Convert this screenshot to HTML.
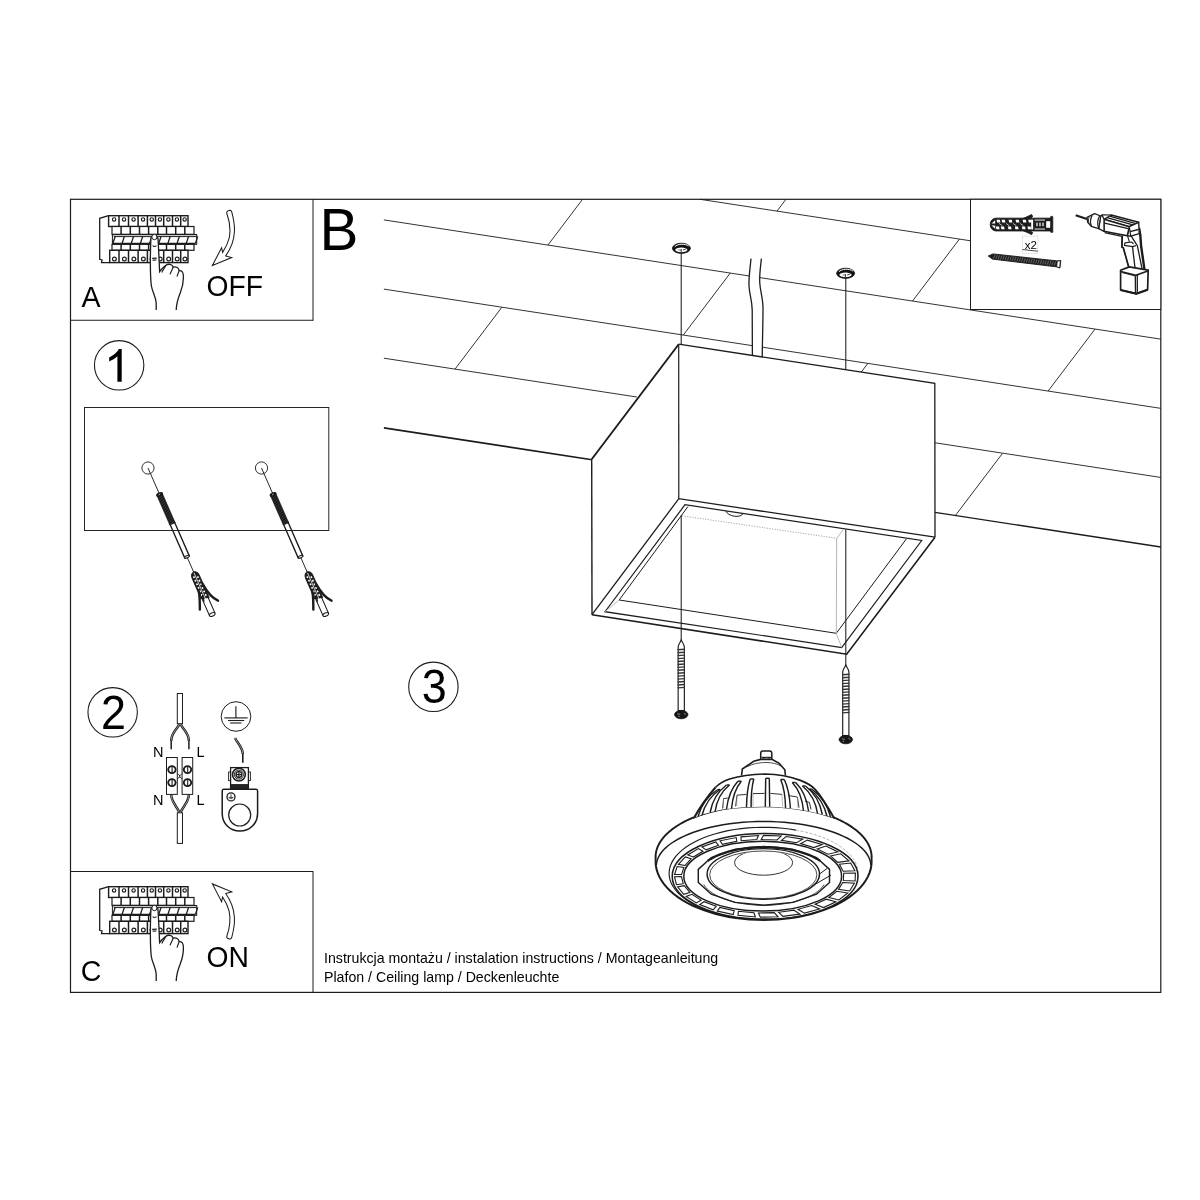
<!DOCTYPE html>
<html><head><meta charset="utf-8"><title>Instrukcja monta&#380;u</title>
<style>
html,body{margin:0;padding:0;background:#fff;}
body{width:1200px;height:1200px;overflow:hidden;font-family:"Liberation Sans",sans-serif;}
svg{display:block;}
svg text{font-family:"Liberation Sans",sans-serif;fill:#000;}
</style></head><body>
<svg width="1200" height="1200" viewBox="0 0 1200 1200" stroke-linecap="butt" stroke-linejoin="miter">
<rect x="0" y="0" width="1200" height="1200" fill="#fff"/>
<rect x="70.5" y="199.3" width="1090.3" height="793.0999999999999" fill="none" stroke="#1c1c1c" stroke-width="1.2"/>
<line x1="70.50" y1="320.30" x2="313.00" y2="320.30" stroke="#1c1c1c" stroke-width="1.1" />
<line x1="313.00" y1="199.30" x2="313.00" y2="320.80" stroke="#1c1c1c" stroke-width="1.0" />
<line x1="70.50" y1="871.50" x2="313.00" y2="871.50" stroke="#1c1c1c" stroke-width="1.1" />
<line x1="313.00" y1="871.00" x2="313.00" y2="992.40" stroke="#1c1c1c" stroke-width="1.0" />
<ellipse cx="119.15" cy="365.35" rx="24.70" ry="24.70" stroke="#1c1c1c" stroke-width="1.1" fill="none" />
<path d="M121.7,349.0 L121.7,381.7 L117.4,381.7 L117.4,356.3 C115.2,358.4 112.2,360.2 109.2,361.4 L109.2,357.4 C113.4,355.4 117.0,352.4 118.9,349.0 Z" stroke="none" stroke-width="0" fill="#000" />
<ellipse cx="112.65" cy="712.35" rx="24.70" ry="24.70" stroke="#1c1c1c" stroke-width="1.1" fill="none" />
<ellipse cx="433.40" cy="686.80" rx="24.70" ry="24.70" stroke="#1c1c1c" stroke-width="1.1" fill="none" />
<line x1="700.00" y1="199.30" x2="970.50" y2="240.79" stroke="#1c1c1c" stroke-width="0.9" />
<line x1="383.90" y1="219.90" x2="1160.80" y2="339.15" stroke="#1c1c1c" stroke-width="0.9" />
<line x1="383.90" y1="289.10" x2="1160.80" y2="408.35" stroke="#1c1c1c" stroke-width="0.9" />
<line x1="383.90" y1="358.20" x2="636.90" y2="397.03" stroke="#1c1c1c" stroke-width="0.9" />
<line x1="935.00" y1="442.79" x2="1160.80" y2="477.45" stroke="#1c1c1c" stroke-width="0.9" />
<line x1="383.90" y1="427.80" x2="592.00" y2="459.74" stroke="#1c1c1c" stroke-width="1.7" />
<line x1="935.00" y1="512.39" x2="1160.80" y2="547.05" stroke="#1c1c1c" stroke-width="1.45" />
<line x1="777.00" y1="211.08" x2="785.93" y2="199.30" stroke="#1c1c1c" stroke-width="0.9" />
<line x1="547.90" y1="245.07" x2="582.57" y2="199.30" stroke="#1c1c1c" stroke-width="0.9" />
<line x1="912.50" y1="301.03" x2="959.43" y2="239.08" stroke="#1c1c1c" stroke-width="0.9" />
<line x1="683.30" y1="335.05" x2="730.23" y2="273.10" stroke="#1c1c1c" stroke-width="0.9" />
<line x1="1048.10" y1="391.05" x2="1095.03" y2="329.10" stroke="#1c1c1c" stroke-width="0.9" />
<line x1="455.00" y1="369.11" x2="501.93" y2="307.16" stroke="#1c1c1c" stroke-width="0.9" />
<line x1="861.17" y1="372.19" x2="867.88" y2="363.33" stroke="#1c1c1c" stroke-width="0.9" />
<line x1="955.40" y1="515.52" x2="1002.33" y2="453.57" stroke="#1c1c1c" stroke-width="0.9" />
<rect x="970.5" y="199.3" width="190.29999999999995" height="110.19999999999999" fill="#fff" stroke="#1c1c1c" stroke-width="1.0"/>
<path d="M751.0,258.6 C750.2,268 748.6,277 749.0,286 C749.5,295 752.0,300 752.2,310 C752.4,325 752.4,340 752.4,356 L762.2,357.5 C762.4,340 763.0,324 763.0,308 C763.0,298 760.2,292 759.7,282 C759.4,274 760.6,266 761.4,258.6 Z" stroke="none" stroke-width="0" fill="#fff" />
<path d="M751.0,258.6 C750.2,268 748.6,277 749.0,286 C749.5,295 752.0,300 752.2,310 C752.4,325 752.4,340 752.4,356" stroke="#1c1c1c" stroke-width="1.3" fill="none" />
<path d="M761.4,258.6 C760.6,266 759.4,274 759.7,282 C760.2,292 763.0,298 763.0,308 C763.0,324 762.4,340 762.2,357.5" stroke="#1c1c1c" stroke-width="1.3" fill="none" />
<line x1="681.20" y1="250.00" x2="681.20" y2="345.00" stroke="#1c1c1c" stroke-width="1.05" />
<line x1="845.80" y1="275.00" x2="845.80" y2="370.00" stroke="#1c1c1c" stroke-width="1.05" />
<ellipse cx="681.40" cy="248.30" rx="9.00" ry="5.10" stroke="#111" stroke-width="0.8" fill="#111" />
<path d="M674.80,246.80 C676.90,243.80 685.40,243.40 688.60,246.00" stroke="#fff" stroke-width="1.0" fill="none" />
<ellipse cx="681.30" cy="249.80" rx="6.10" ry="2.35" stroke="none" stroke-width="0" fill="#fff" />
<line x1="681.20" y1="249.00" x2="681.20" y2="252.50" stroke="#333" stroke-width="1.0" />
<line x1="682.90" y1="250.00" x2="686.00" y2="249.00" stroke="#333" stroke-width="0.9" />
<line x1="678.40" y1="249.90" x2="680.90" y2="250.10" stroke="#555" stroke-width="0.8" />
<ellipse cx="845.60" cy="273.30" rx="9.00" ry="5.10" stroke="#111" stroke-width="0.8" fill="#111" />
<path d="M839.00,271.80 C841.10,268.80 849.60,268.40 852.80,271.00" stroke="#fff" stroke-width="1.0" fill="none" />
<ellipse cx="845.50" cy="274.80" rx="6.10" ry="2.35" stroke="none" stroke-width="0" fill="#fff" />
<line x1="845.40" y1="274.00" x2="845.40" y2="277.50" stroke="#333" stroke-width="1.0" />
<line x1="847.10" y1="275.00" x2="850.20" y2="274.00" stroke="#333" stroke-width="0.9" />
<line x1="842.60" y1="274.90" x2="845.10" y2="275.10" stroke="#555" stroke-width="0.8" />
<path d="M591.70,459.30 L678.70,344.20 L934.80,383.30 L935.00,537.20 L846.70,654.20 L592.00,614.70 Z" stroke="none" stroke-width="0" fill="#fff" />
<path d="M591.70,459.30 L678.70,344.20" stroke="#1c1c1c" stroke-width="1.9" fill="none" />
<path d="M678.70,344.20 L934.80,383.30 L935.00,537.20" stroke="#1c1c1c" stroke-width="1.3" fill="none" />
<path d="M678.70,344.20 L678.80,498.70" stroke="#1c1c1c" stroke-width="1.2" fill="none" />
<path d="M591.70,459.30 L592.00,614.70" stroke="#1c1c1c" stroke-width="1.4" fill="none" />
<path d="M592.00,614.70 L678.80,498.70 L935.00,537.20" stroke="#1c1c1c" stroke-width="1.3" fill="none" />
<path d="M592.00,614.70 L846.70,654.20 L935.00,537.20" stroke="#1c1c1c" stroke-width="1.6" fill="none" />
<path d="M685.00,504.70 L605.00,611.70 L841.70,647.50 L921.70,540.50 Z" stroke="#1c1c1c" stroke-width="1.2" fill="none" />
<path d="M688.00,506.50 L619.20,600.00 L836.30,633.30 L906.30,539.00" stroke="#1c1c1c" stroke-width="1.0" fill="none" />
<line x1="836.70" y1="538.30" x2="836.30" y2="633.30" stroke="#b5b5b5" stroke-width="1.0" />
<line x1="836.70" y1="538.30" x2="843.00" y2="530.00" stroke="#b5b5b5" stroke-width="1.0" />
<line x1="836.30" y1="633.30" x2="841.70" y2="647.50" stroke="#b5b5b5" stroke-width="0.9" />
<line x1="619.20" y1="600.00" x2="605.00" y2="611.70" stroke="#b5b5b5" stroke-width="0.9" />
<line x1="682.00" y1="515.80" x2="836.70" y2="538.30" stroke="#9a9a9a" stroke-width="0.9" stroke-dasharray="1.2 1.4"/>
<path d="M726.0,511.0 C727.5,516.5 741.0,518.5 743.0,513.5" stroke="#1c1c1c" stroke-width="1.0" fill="none" />
<line x1="681.20" y1="515.60" x2="681.20" y2="641.00" stroke="#1c1c1c" stroke-width="1.05" />
<line x1="845.80" y1="529.20" x2="845.80" y2="666.00" stroke="#1c1c1c" stroke-width="1.05" />
<path d="M681.25,640.0 C680.45,642.2 678.15,644.4 678.15,647.0 L678.15,710.5 L684.35,710.5 L684.35,647.0 C684.35,644.4 682.05,642.2 681.25,640.0 Z" stroke="#1c1c1c" stroke-width="1.15" fill="#fff" />
<line x1="677.55" y1="649.80" x2="684.95" y2="649.30" stroke="#333" stroke-width="1.4" />
<line x1="677.55" y1="652.73" x2="684.95" y2="652.23" stroke="#333" stroke-width="1.4" />
<line x1="677.55" y1="655.66" x2="684.95" y2="655.16" stroke="#333" stroke-width="1.4" />
<line x1="677.55" y1="658.59" x2="684.95" y2="658.09" stroke="#333" stroke-width="1.4" />
<line x1="677.55" y1="661.52" x2="684.95" y2="661.02" stroke="#333" stroke-width="1.4" />
<line x1="677.55" y1="664.45" x2="684.95" y2="663.95" stroke="#333" stroke-width="1.4" />
<line x1="677.55" y1="667.38" x2="684.95" y2="666.88" stroke="#333" stroke-width="1.4" />
<line x1="677.55" y1="670.31" x2="684.95" y2="669.81" stroke="#333" stroke-width="1.4" />
<line x1="677.55" y1="673.24" x2="684.95" y2="672.74" stroke="#333" stroke-width="1.4" />
<line x1="677.55" y1="676.17" x2="684.95" y2="675.67" stroke="#333" stroke-width="1.4" />
<line x1="677.55" y1="679.10" x2="684.95" y2="678.60" stroke="#333" stroke-width="1.4" />
<line x1="677.55" y1="682.03" x2="684.95" y2="681.53" stroke="#333" stroke-width="1.4" />
<line x1="677.55" y1="684.96" x2="684.95" y2="684.46" stroke="#333" stroke-width="1.4" />
<line x1="677.55" y1="687.89" x2="684.95" y2="687.39" stroke="#333" stroke-width="1.4" />
<ellipse cx="681.25" cy="714.60" rx="6.70" ry="4.20" stroke="#111" stroke-width="0.8" fill="#151515" />
<path d="M677.25,713.8 L680.25,714.3 M683.85,713.2 L685.85,714.6 M678.05,716.0 L679.65,716.6" stroke="#9a9a9a" stroke-width="0.9" fill="none" />
<path d="M845.8,665.0 C845.0,667.2 842.6999999999999,669.4 842.6999999999999,672.0 L842.6999999999999,735.5 L848.9,735.5 L848.9,672.0 C848.9,669.4 846.5999999999999,667.2 845.8,665.0 Z" stroke="#1c1c1c" stroke-width="1.15" fill="#fff" />
<line x1="842.10" y1="674.80" x2="849.50" y2="674.30" stroke="#333" stroke-width="1.4" />
<line x1="842.10" y1="677.73" x2="849.50" y2="677.23" stroke="#333" stroke-width="1.4" />
<line x1="842.10" y1="680.66" x2="849.50" y2="680.16" stroke="#333" stroke-width="1.4" />
<line x1="842.10" y1="683.59" x2="849.50" y2="683.09" stroke="#333" stroke-width="1.4" />
<line x1="842.10" y1="686.52" x2="849.50" y2="686.02" stroke="#333" stroke-width="1.4" />
<line x1="842.10" y1="689.45" x2="849.50" y2="688.95" stroke="#333" stroke-width="1.4" />
<line x1="842.10" y1="692.38" x2="849.50" y2="691.88" stroke="#333" stroke-width="1.4" />
<line x1="842.10" y1="695.31" x2="849.50" y2="694.81" stroke="#333" stroke-width="1.4" />
<line x1="842.10" y1="698.24" x2="849.50" y2="697.74" stroke="#333" stroke-width="1.4" />
<line x1="842.10" y1="701.17" x2="849.50" y2="700.67" stroke="#333" stroke-width="1.4" />
<line x1="842.10" y1="704.10" x2="849.50" y2="703.60" stroke="#333" stroke-width="1.4" />
<line x1="842.10" y1="707.03" x2="849.50" y2="706.53" stroke="#333" stroke-width="1.4" />
<line x1="842.10" y1="709.96" x2="849.50" y2="709.46" stroke="#333" stroke-width="1.4" />
<line x1="842.10" y1="712.89" x2="849.50" y2="712.39" stroke="#333" stroke-width="1.4" />
<ellipse cx="845.80" cy="739.60" rx="6.70" ry="4.20" stroke="#111" stroke-width="0.8" fill="#151515" />
<path d="M841.8,738.8 L844.8,739.3 M848.4,738.2 L850.4,739.6 M842.5999999999999,741.0 L844.1999999999999,741.6" stroke="#9a9a9a" stroke-width="0.9" fill="none" />
<g transform="translate(0,0)">
<path d="M108.6,215.7 L99.7,218.3 L99.7,259.3 L102.0,260.0 L101.5,262.6 L109.7,262.6" stroke="#1c1c1c" stroke-width="1.3" fill="#fff" />
<rect x="108.6" y="215.7" width="79.4" height="10.8" fill="#fff" stroke="#1c1c1c" stroke-width="1.4"/>
<line x1="119.00" y1="215.70" x2="119.00" y2="226.50" stroke="#1c1c1c" stroke-width="1.5" />
<line x1="128.50" y1="215.70" x2="128.50" y2="226.50" stroke="#1c1c1c" stroke-width="1.5" />
<line x1="138.10" y1="215.70" x2="138.10" y2="226.50" stroke="#1c1c1c" stroke-width="1.5" />
<line x1="147.40" y1="215.70" x2="147.40" y2="226.50" stroke="#1c1c1c" stroke-width="1.5" />
<line x1="155.50" y1="215.70" x2="155.50" y2="226.50" stroke="#1c1c1c" stroke-width="1.5" />
<line x1="163.70" y1="215.70" x2="163.70" y2="226.50" stroke="#1c1c1c" stroke-width="1.5" />
<line x1="172.50" y1="215.70" x2="172.50" y2="226.50" stroke="#1c1c1c" stroke-width="1.5" />
<line x1="180.70" y1="215.70" x2="180.70" y2="226.50" stroke="#1c1c1c" stroke-width="1.5" />
<ellipse cx="114.10" cy="219.40" rx="1.70" ry="1.70" stroke="#1c1c1c" stroke-width="1.15" fill="none" />
<ellipse cx="124.05" cy="219.40" rx="1.70" ry="1.70" stroke="#1c1c1c" stroke-width="1.15" fill="none" />
<ellipse cx="133.60" cy="219.40" rx="1.70" ry="1.70" stroke="#1c1c1c" stroke-width="1.15" fill="none" />
<ellipse cx="143.05" cy="219.40" rx="1.70" ry="1.70" stroke="#1c1c1c" stroke-width="1.15" fill="none" />
<ellipse cx="151.75" cy="219.40" rx="1.70" ry="1.70" stroke="#1c1c1c" stroke-width="1.15" fill="none" />
<ellipse cx="159.90" cy="219.40" rx="1.70" ry="1.70" stroke="#1c1c1c" stroke-width="1.15" fill="none" />
<ellipse cx="168.40" cy="219.40" rx="1.70" ry="1.70" stroke="#1c1c1c" stroke-width="1.15" fill="none" />
<ellipse cx="176.90" cy="219.40" rx="1.70" ry="1.70" stroke="#1c1c1c" stroke-width="1.15" fill="none" />
<ellipse cx="184.65" cy="219.40" rx="1.70" ry="1.70" stroke="#1c1c1c" stroke-width="1.15" fill="none" />
<rect x="112.0" y="226.5" width="82.0" height="7.8" fill="#fff" stroke="#1c1c1c" stroke-width="1.2"/>
<line x1="121.10" y1="226.50" x2="121.10" y2="234.30" stroke="#1c1c1c" stroke-width="1.5" />
<line x1="130.30" y1="226.50" x2="130.30" y2="234.30" stroke="#1c1c1c" stroke-width="1.5" />
<line x1="139.50" y1="226.50" x2="139.50" y2="234.30" stroke="#1c1c1c" stroke-width="1.5" />
<line x1="148.60" y1="226.50" x2="148.60" y2="234.30" stroke="#1c1c1c" stroke-width="1.5" />
<line x1="157.80" y1="226.50" x2="157.80" y2="234.30" stroke="#1c1c1c" stroke-width="1.5" />
<line x1="166.50" y1="226.50" x2="166.50" y2="234.30" stroke="#1c1c1c" stroke-width="1.5" />
<line x1="175.70" y1="226.50" x2="175.70" y2="234.30" stroke="#1c1c1c" stroke-width="1.5" />
<line x1="184.80" y1="226.50" x2="184.80" y2="234.30" stroke="#1c1c1c" stroke-width="1.5" />
<rect x="112.0" y="244.4" width="82.0" height="5.9" fill="#fff" stroke="#1c1c1c" stroke-width="1.2"/>
<line x1="121.10" y1="244.40" x2="121.10" y2="250.30" stroke="#1c1c1c" stroke-width="1.5" />
<line x1="130.30" y1="244.40" x2="130.30" y2="250.30" stroke="#1c1c1c" stroke-width="1.5" />
<line x1="139.50" y1="244.40" x2="139.50" y2="250.30" stroke="#1c1c1c" stroke-width="1.5" />
<line x1="148.60" y1="244.40" x2="148.60" y2="250.30" stroke="#1c1c1c" stroke-width="1.5" />
<line x1="157.80" y1="244.40" x2="157.80" y2="250.30" stroke="#1c1c1c" stroke-width="1.5" />
<line x1="166.50" y1="244.40" x2="166.50" y2="250.30" stroke="#1c1c1c" stroke-width="1.5" />
<line x1="175.70" y1="244.40" x2="175.70" y2="250.30" stroke="#1c1c1c" stroke-width="1.5" />
<line x1="184.80" y1="244.40" x2="184.80" y2="250.30" stroke="#1c1c1c" stroke-width="1.5" />
<rect x="109.7" y="250.3" width="78.3" height="12.3" fill="#fff" stroke="#1c1c1c" stroke-width="1.4"/>
<line x1="119.00" y1="250.30" x2="119.00" y2="262.60" stroke="#1c1c1c" stroke-width="1.5" />
<line x1="128.50" y1="250.30" x2="128.50" y2="262.60" stroke="#1c1c1c" stroke-width="1.5" />
<line x1="138.10" y1="250.30" x2="138.10" y2="262.60" stroke="#1c1c1c" stroke-width="1.5" />
<line x1="147.40" y1="250.30" x2="147.40" y2="262.60" stroke="#1c1c1c" stroke-width="1.5" />
<line x1="155.50" y1="250.30" x2="155.50" y2="262.60" stroke="#1c1c1c" stroke-width="1.5" />
<line x1="163.70" y1="250.30" x2="163.70" y2="262.60" stroke="#1c1c1c" stroke-width="1.5" />
<line x1="172.50" y1="250.30" x2="172.50" y2="262.60" stroke="#1c1c1c" stroke-width="1.5" />
<line x1="180.70" y1="250.30" x2="180.70" y2="262.60" stroke="#1c1c1c" stroke-width="1.5" />
<ellipse cx="114.40" cy="259.00" rx="1.90" ry="1.90" stroke="#1c1c1c" stroke-width="1.2" fill="none" />
<ellipse cx="124.35" cy="259.00" rx="1.90" ry="1.90" stroke="#1c1c1c" stroke-width="1.2" fill="none" />
<ellipse cx="133.90" cy="259.00" rx="1.90" ry="1.90" stroke="#1c1c1c" stroke-width="1.2" fill="none" />
<ellipse cx="143.35" cy="259.00" rx="1.90" ry="1.90" stroke="#1c1c1c" stroke-width="1.2" fill="none" />
<ellipse cx="152.05" cy="259.00" rx="1.90" ry="1.90" stroke="#1c1c1c" stroke-width="1.2" fill="none" />
<ellipse cx="160.20" cy="259.00" rx="1.90" ry="1.90" stroke="#1c1c1c" stroke-width="1.2" fill="none" />
<ellipse cx="168.70" cy="259.00" rx="1.90" ry="1.90" stroke="#1c1c1c" stroke-width="1.2" fill="none" />
<ellipse cx="177.20" cy="259.00" rx="1.90" ry="1.90" stroke="#1c1c1c" stroke-width="1.2" fill="none" />
<ellipse cx="184.95" cy="259.00" rx="1.90" ry="1.90" stroke="#1c1c1c" stroke-width="1.2" fill="none" />
<rect x="112.4" y="234.5" width="84.3" height="9.8" fill="#fff" stroke="#1c1c1c" stroke-width="1.0"/>
<line x1="112.40" y1="234.60" x2="196.70" y2="234.60" stroke="#1c1c1c" stroke-width="1.3" />
<line x1="113.60" y1="236.60" x2="196.70" y2="236.60" stroke="#1c1c1c" stroke-width="1.0" />
<line x1="112.40" y1="243.60" x2="195.40" y2="243.60" stroke="#1c1c1c" stroke-width="1.9" />
<line x1="112.90" y1="243.40" x2="115.20" y2="236.40" stroke="#1c1c1c" stroke-width="1.35" />
<line x1="122.07" y1="243.40" x2="124.37" y2="236.40" stroke="#1c1c1c" stroke-width="1.35" />
<line x1="131.24" y1="243.40" x2="133.54" y2="236.40" stroke="#1c1c1c" stroke-width="1.35" />
<line x1="140.41" y1="243.40" x2="142.71" y2="236.40" stroke="#1c1c1c" stroke-width="1.35" />
<line x1="149.58" y1="243.40" x2="151.88" y2="236.40" stroke="#1c1c1c" stroke-width="1.35" />
<line x1="158.75" y1="243.40" x2="161.05" y2="236.40" stroke="#1c1c1c" stroke-width="1.35" />
<line x1="167.92" y1="243.40" x2="170.22" y2="236.40" stroke="#1c1c1c" stroke-width="1.35" />
<line x1="177.09" y1="243.40" x2="179.39" y2="236.40" stroke="#1c1c1c" stroke-width="1.35" />
<line x1="186.26" y1="243.40" x2="188.56" y2="236.40" stroke="#1c1c1c" stroke-width="1.35" />
<line x1="195.43" y1="243.40" x2="197.73" y2="236.40" stroke="#1c1c1c" stroke-width="1.35" />
</g>
<g transform="translate(0,0)">
<path d="M150.9,238.5 C150.6,246 150.2,258 150.4,265 C150.6,274 151.0,280 152.6,287 C154.2,294 155.6,300 156.2,310 L176.2,310 C176.4,304 177.8,299 180.2,293 C182.6,287 183.6,281 183.4,276 C183.2,272 181.6,270.2 179.2,270.6 C178.8,267.8 176.0,266.2 173.2,267.2 C172.4,264.4 168.4,263.4 166.0,265.2 C164.4,266.6 161.4,269.0 159.6,271.6 C159.2,262 158.6,248 158.0,238.5 C157.6,235.4 151.2,235.4 150.9,238.5 Z" stroke="none" stroke-width="0" fill="#fff" />
<path d="M156.2,310 L156.2,303 C155.8,296.5 152.2,291.5 151.3,285.5 C150.6,279 150.4,272 150.4,265 C150.2,258 150.6,246 150.9,238.5 C151.2,235.4 157.6,235.4 158.0,238.5 C158.6,248 159.2,262 159.6,271.6 C161.4,269.0 164.4,266.6 166.0,265.2 C168.4,263.4 172.4,264.4 173.2,267.2 C176.0,266.2 178.8,267.8 179.2,270.6 C181.6,270.2 183.2,272 183.4,276 C183.6,281 182.6,287 180.2,293 C177.8,299 176.4,304 176.2,310" stroke="#1c1c1c" stroke-width="1.3" fill="none" />
<path d="M173.2,267.2 C172.2,269.6 171.0,272 170.0,274.4" stroke="#1c1c1c" stroke-width="1.1" fill="none" />
<path d="M179.2,270.6 C178.4,272.6 177.6,274.4 177.0,276.6" stroke="#1c1c1c" stroke-width="1.1" fill="none" />
<path d="M166.0,265.2 C164.6,267.6 163.0,270.0 161.8,272.4" stroke="#1c1c1c" stroke-width="1.1" fill="none" />
<ellipse cx="154.40" cy="237.00" rx="2.60" ry="2.70" stroke="#1c1c1c" stroke-width="1.0" fill="#fff" />
<path d="M152.6,245.6 C153.6,246.5 155.4,246.5 156.4,245.6" stroke="#1c1c1c" stroke-width="1.1" fill="none" />
<line x1="152.20" y1="258.40" x2="156.80" y2="258.10" stroke="#1c1c1c" stroke-width="1.25" />
<line x1="152.60" y1="260.20" x2="156.40" y2="260.00" stroke="#1c1c1c" stroke-width="1.25" />
</g>
<g transform="translate(0,671.0)">
<path d="M108.6,215.7 L99.7,218.3 L99.7,259.3 L102.0,260.0 L101.5,262.6 L109.7,262.6" stroke="#1c1c1c" stroke-width="1.3" fill="#fff" />
<rect x="108.6" y="215.7" width="79.4" height="10.8" fill="#fff" stroke="#1c1c1c" stroke-width="1.4"/>
<line x1="119.00" y1="215.70" x2="119.00" y2="226.50" stroke="#1c1c1c" stroke-width="1.5" />
<line x1="128.50" y1="215.70" x2="128.50" y2="226.50" stroke="#1c1c1c" stroke-width="1.5" />
<line x1="138.10" y1="215.70" x2="138.10" y2="226.50" stroke="#1c1c1c" stroke-width="1.5" />
<line x1="147.40" y1="215.70" x2="147.40" y2="226.50" stroke="#1c1c1c" stroke-width="1.5" />
<line x1="155.50" y1="215.70" x2="155.50" y2="226.50" stroke="#1c1c1c" stroke-width="1.5" />
<line x1="163.70" y1="215.70" x2="163.70" y2="226.50" stroke="#1c1c1c" stroke-width="1.5" />
<line x1="172.50" y1="215.70" x2="172.50" y2="226.50" stroke="#1c1c1c" stroke-width="1.5" />
<line x1="180.70" y1="215.70" x2="180.70" y2="226.50" stroke="#1c1c1c" stroke-width="1.5" />
<ellipse cx="114.10" cy="219.40" rx="1.70" ry="1.70" stroke="#1c1c1c" stroke-width="1.15" fill="none" />
<ellipse cx="124.05" cy="219.40" rx="1.70" ry="1.70" stroke="#1c1c1c" stroke-width="1.15" fill="none" />
<ellipse cx="133.60" cy="219.40" rx="1.70" ry="1.70" stroke="#1c1c1c" stroke-width="1.15" fill="none" />
<ellipse cx="143.05" cy="219.40" rx="1.70" ry="1.70" stroke="#1c1c1c" stroke-width="1.15" fill="none" />
<ellipse cx="151.75" cy="219.40" rx="1.70" ry="1.70" stroke="#1c1c1c" stroke-width="1.15" fill="none" />
<ellipse cx="159.90" cy="219.40" rx="1.70" ry="1.70" stroke="#1c1c1c" stroke-width="1.15" fill="none" />
<ellipse cx="168.40" cy="219.40" rx="1.70" ry="1.70" stroke="#1c1c1c" stroke-width="1.15" fill="none" />
<ellipse cx="176.90" cy="219.40" rx="1.70" ry="1.70" stroke="#1c1c1c" stroke-width="1.15" fill="none" />
<ellipse cx="184.65" cy="219.40" rx="1.70" ry="1.70" stroke="#1c1c1c" stroke-width="1.15" fill="none" />
<rect x="112.0" y="226.5" width="82.0" height="7.8" fill="#fff" stroke="#1c1c1c" stroke-width="1.2"/>
<line x1="121.10" y1="226.50" x2="121.10" y2="234.30" stroke="#1c1c1c" stroke-width="1.5" />
<line x1="130.30" y1="226.50" x2="130.30" y2="234.30" stroke="#1c1c1c" stroke-width="1.5" />
<line x1="139.50" y1="226.50" x2="139.50" y2="234.30" stroke="#1c1c1c" stroke-width="1.5" />
<line x1="148.60" y1="226.50" x2="148.60" y2="234.30" stroke="#1c1c1c" stroke-width="1.5" />
<line x1="157.80" y1="226.50" x2="157.80" y2="234.30" stroke="#1c1c1c" stroke-width="1.5" />
<line x1="166.50" y1="226.50" x2="166.50" y2="234.30" stroke="#1c1c1c" stroke-width="1.5" />
<line x1="175.70" y1="226.50" x2="175.70" y2="234.30" stroke="#1c1c1c" stroke-width="1.5" />
<line x1="184.80" y1="226.50" x2="184.80" y2="234.30" stroke="#1c1c1c" stroke-width="1.5" />
<rect x="112.0" y="244.4" width="82.0" height="5.9" fill="#fff" stroke="#1c1c1c" stroke-width="1.2"/>
<line x1="121.10" y1="244.40" x2="121.10" y2="250.30" stroke="#1c1c1c" stroke-width="1.5" />
<line x1="130.30" y1="244.40" x2="130.30" y2="250.30" stroke="#1c1c1c" stroke-width="1.5" />
<line x1="139.50" y1="244.40" x2="139.50" y2="250.30" stroke="#1c1c1c" stroke-width="1.5" />
<line x1="148.60" y1="244.40" x2="148.60" y2="250.30" stroke="#1c1c1c" stroke-width="1.5" />
<line x1="157.80" y1="244.40" x2="157.80" y2="250.30" stroke="#1c1c1c" stroke-width="1.5" />
<line x1="166.50" y1="244.40" x2="166.50" y2="250.30" stroke="#1c1c1c" stroke-width="1.5" />
<line x1="175.70" y1="244.40" x2="175.70" y2="250.30" stroke="#1c1c1c" stroke-width="1.5" />
<line x1="184.80" y1="244.40" x2="184.80" y2="250.30" stroke="#1c1c1c" stroke-width="1.5" />
<rect x="109.7" y="250.3" width="78.3" height="12.3" fill="#fff" stroke="#1c1c1c" stroke-width="1.4"/>
<line x1="119.00" y1="250.30" x2="119.00" y2="262.60" stroke="#1c1c1c" stroke-width="1.5" />
<line x1="128.50" y1="250.30" x2="128.50" y2="262.60" stroke="#1c1c1c" stroke-width="1.5" />
<line x1="138.10" y1="250.30" x2="138.10" y2="262.60" stroke="#1c1c1c" stroke-width="1.5" />
<line x1="147.40" y1="250.30" x2="147.40" y2="262.60" stroke="#1c1c1c" stroke-width="1.5" />
<line x1="155.50" y1="250.30" x2="155.50" y2="262.60" stroke="#1c1c1c" stroke-width="1.5" />
<line x1="163.70" y1="250.30" x2="163.70" y2="262.60" stroke="#1c1c1c" stroke-width="1.5" />
<line x1="172.50" y1="250.30" x2="172.50" y2="262.60" stroke="#1c1c1c" stroke-width="1.5" />
<line x1="180.70" y1="250.30" x2="180.70" y2="262.60" stroke="#1c1c1c" stroke-width="1.5" />
<ellipse cx="114.40" cy="259.00" rx="1.90" ry="1.90" stroke="#1c1c1c" stroke-width="1.2" fill="none" />
<ellipse cx="124.35" cy="259.00" rx="1.90" ry="1.90" stroke="#1c1c1c" stroke-width="1.2" fill="none" />
<ellipse cx="133.90" cy="259.00" rx="1.90" ry="1.90" stroke="#1c1c1c" stroke-width="1.2" fill="none" />
<ellipse cx="143.35" cy="259.00" rx="1.90" ry="1.90" stroke="#1c1c1c" stroke-width="1.2" fill="none" />
<ellipse cx="152.05" cy="259.00" rx="1.90" ry="1.90" stroke="#1c1c1c" stroke-width="1.2" fill="none" />
<ellipse cx="160.20" cy="259.00" rx="1.90" ry="1.90" stroke="#1c1c1c" stroke-width="1.2" fill="none" />
<ellipse cx="168.70" cy="259.00" rx="1.90" ry="1.90" stroke="#1c1c1c" stroke-width="1.2" fill="none" />
<ellipse cx="177.20" cy="259.00" rx="1.90" ry="1.90" stroke="#1c1c1c" stroke-width="1.2" fill="none" />
<ellipse cx="184.95" cy="259.00" rx="1.90" ry="1.90" stroke="#1c1c1c" stroke-width="1.2" fill="none" />
<rect x="112.4" y="234.5" width="84.3" height="9.8" fill="#fff" stroke="#1c1c1c" stroke-width="1.0"/>
<line x1="112.40" y1="234.60" x2="196.70" y2="234.60" stroke="#1c1c1c" stroke-width="1.3" />
<line x1="113.60" y1="236.60" x2="196.70" y2="236.60" stroke="#1c1c1c" stroke-width="1.0" />
<line x1="112.40" y1="243.60" x2="195.40" y2="243.60" stroke="#1c1c1c" stroke-width="1.9" />
<line x1="112.90" y1="243.40" x2="115.20" y2="236.40" stroke="#1c1c1c" stroke-width="1.35" />
<line x1="122.07" y1="243.40" x2="124.37" y2="236.40" stroke="#1c1c1c" stroke-width="1.35" />
<line x1="131.24" y1="243.40" x2="133.54" y2="236.40" stroke="#1c1c1c" stroke-width="1.35" />
<line x1="140.41" y1="243.40" x2="142.71" y2="236.40" stroke="#1c1c1c" stroke-width="1.35" />
<line x1="149.58" y1="243.40" x2="151.88" y2="236.40" stroke="#1c1c1c" stroke-width="1.35" />
<line x1="158.75" y1="243.40" x2="161.05" y2="236.40" stroke="#1c1c1c" stroke-width="1.35" />
<line x1="167.92" y1="243.40" x2="170.22" y2="236.40" stroke="#1c1c1c" stroke-width="1.35" />
<line x1="177.09" y1="243.40" x2="179.39" y2="236.40" stroke="#1c1c1c" stroke-width="1.35" />
<line x1="186.26" y1="243.40" x2="188.56" y2="236.40" stroke="#1c1c1c" stroke-width="1.35" />
<line x1="195.43" y1="243.40" x2="197.73" y2="236.40" stroke="#1c1c1c" stroke-width="1.35" />
</g>
<g transform="translate(0,671.0)">
<path d="M150.9,238.5 C150.6,246 150.2,258 150.4,265 C150.6,274 151.0,280 152.6,287 C154.2,294 155.6,300 156.2,310 L176.2,310 C176.4,304 177.8,299 180.2,293 C182.6,287 183.6,281 183.4,276 C183.2,272 181.6,270.2 179.2,270.6 C178.8,267.8 176.0,266.2 173.2,267.2 C172.4,264.4 168.4,263.4 166.0,265.2 C164.4,266.6 161.4,269.0 159.6,271.6 C159.2,262 158.6,248 158.0,238.5 C157.6,235.4 151.2,235.4 150.9,238.5 Z" stroke="none" stroke-width="0" fill="#fff" />
<path d="M156.2,310 L156.2,303 C155.8,296.5 152.2,291.5 151.3,285.5 C150.6,279 150.4,272 150.4,265 C150.2,258 150.6,246 150.9,238.5 C151.2,235.4 157.6,235.4 158.0,238.5 C158.6,248 159.2,262 159.6,271.6 C161.4,269.0 164.4,266.6 166.0,265.2 C168.4,263.4 172.4,264.4 173.2,267.2 C176.0,266.2 178.8,267.8 179.2,270.6 C181.6,270.2 183.2,272 183.4,276 C183.6,281 182.6,287 180.2,293 C177.8,299 176.4,304 176.2,310" stroke="#1c1c1c" stroke-width="1.3" fill="none" />
<path d="M173.2,267.2 C172.2,269.6 171.0,272 170.0,274.4" stroke="#1c1c1c" stroke-width="1.1" fill="none" />
<path d="M179.2,270.6 C178.4,272.6 177.6,274.4 177.0,276.6" stroke="#1c1c1c" stroke-width="1.1" fill="none" />
<path d="M166.0,265.2 C164.6,267.6 163.0,270.0 161.8,272.4" stroke="#1c1c1c" stroke-width="1.1" fill="none" />
<ellipse cx="154.40" cy="237.00" rx="2.60" ry="2.70" stroke="#1c1c1c" stroke-width="1.0" fill="#fff" />
<path d="M152.6,245.6 C153.6,246.5 155.4,246.5 156.4,245.6" stroke="#1c1c1c" stroke-width="1.1" fill="none" />
<line x1="152.20" y1="258.40" x2="156.80" y2="258.10" stroke="#1c1c1c" stroke-width="1.25" />
<line x1="152.60" y1="260.20" x2="156.40" y2="260.00" stroke="#1c1c1c" stroke-width="1.25" />
</g>
<path d="M228.9,210.6 C230.2,210.0 231.4,210.6 231.8,212.2 C233.6,219 234.8,226 234.4,232 C234.0,240 230.6,249 225.7,255.9 L231.7,257.6 L212.4,265.5 L221.6,247.7 L222.6,252.4 C225.6,248 228.0,243 229.2,238 C230.8,230 229.6,221 226.8,213.2 C226.4,211.8 227.4,211.0 228.9,210.6 Z" stroke="#1c1c1c" stroke-width="1.05" fill="#fff" />
<g transform="translate(0,1149.4) scale(1,-1)">
<path d="M228.9,210.6 C230.2,210.0 231.4,210.6 231.8,212.2 C233.6,219 234.8,226 234.4,232 C234.0,240 230.6,249 225.7,255.9 L231.7,257.6 L212.4,265.5 L221.6,247.7 L222.6,252.4 C225.6,248 228.0,243 229.2,238 C230.8,230 229.6,221 226.8,213.2 C226.4,211.8 227.4,211.0 228.9,210.6 Z" stroke="#1c1c1c" stroke-width="1.05" fill="#fff" />
</g>
<rect x="84.5" y="407.5" width="244.3" height="123.0" fill="none" stroke="#1c1c1c" stroke-width="0.95"/>
<ellipse cx="148.00" cy="468.00" rx="6.10" ry="6.10" stroke="#1c1c1c" stroke-width="0.9" fill="none" />
<g transform="translate(148.0,468.0) rotate(-23.691)">
<line x1="0.00" y1="0.00" x2="0.00" y2="28.50" stroke="#1c1c1c" stroke-width="0.85" />
<line x1="0.00" y1="97.50" x2="0.00" y2="114.50" stroke="#1c1c1c" stroke-width="0.85" />
<rect x="-2.5" y="60.0" width="5.0" height="37.2" fill="none" stroke="#1c1c1c" stroke-width="1.35"/>
<ellipse cx="0.00" cy="97.00" rx="2.50" ry="1.10" stroke="#1c1c1c" stroke-width="1.1" fill="#fff" />
<rect x="-2.9" y="28.8" width="5.8" height="32.2" fill="#161616" stroke="#161616" stroke-width="0.6"/>
<line x1="-2.20" y1="32.20" x2="2.20" y2="31.00" stroke="#6a6a6a" stroke-width="0.45" />
<line x1="-2.20" y1="34.55" x2="2.20" y2="33.35" stroke="#6a6a6a" stroke-width="0.45" />
<line x1="-2.20" y1="36.90" x2="2.20" y2="35.70" stroke="#6a6a6a" stroke-width="0.45" />
<line x1="-2.20" y1="39.25" x2="2.20" y2="38.05" stroke="#6a6a6a" stroke-width="0.45" />
<line x1="-2.20" y1="41.60" x2="2.20" y2="40.40" stroke="#6a6a6a" stroke-width="0.45" />
<line x1="-2.20" y1="43.95" x2="2.20" y2="42.75" stroke="#6a6a6a" stroke-width="0.45" />
<line x1="-2.20" y1="46.30" x2="2.20" y2="45.10" stroke="#6a6a6a" stroke-width="0.45" />
<line x1="-2.20" y1="48.65" x2="2.20" y2="47.45" stroke="#6a6a6a" stroke-width="0.45" />
<line x1="-2.20" y1="51.00" x2="2.20" y2="49.80" stroke="#6a6a6a" stroke-width="0.45" />
<line x1="-2.20" y1="53.35" x2="2.20" y2="52.15" stroke="#6a6a6a" stroke-width="0.45" />
<line x1="-2.20" y1="55.70" x2="2.20" y2="54.50" stroke="#6a6a6a" stroke-width="0.45" />
<line x1="-2.20" y1="58.05" x2="2.20" y2="56.85" stroke="#6a6a6a" stroke-width="0.45" />
<line x1="-2.20" y1="60.40" x2="2.20" y2="59.20" stroke="#6a6a6a" stroke-width="0.45" />
<ellipse cx="0.00" cy="28.90" rx="3.00" ry="1.60" stroke="#1c1c1c" stroke-width="1.2" fill="#161616" />
<line x1="-1.20" y1="29.00" x2="0.80" y2="28.60" stroke="#ddd" stroke-width="0.7" />
<path d="M-3.0,160.0 L-3.0,140 L3.0,140 L3.0,160.0" fill="#fff" stroke="#1c1c1c" stroke-width="1.0"/>
<ellipse cx="0.00" cy="160.00" rx="3.00" ry="1.70" stroke="#1c1c1c" stroke-width="1.0" fill="#fff" />
<path d="M0,113.5 C-2.6,114 -3.9,116 -3.9,119 L-3.9,141 L3.9,143 L3.9,119 C3.9,116 2.6,114 0,113.5 Z" stroke="#1c1c1c" stroke-width="1.0" fill="#1e1e1e" />
<rect x="-2.6" y="117.50" width="1.6" height="1.8" fill="#fff"/>
<rect x="1.0" y="119.10" width="1.6" height="1.8" fill="#fff"/>
<rect x="-2.6" y="121.40" width="1.6" height="1.8" fill="#fff"/>
<rect x="1.0" y="123.00" width="1.6" height="1.8" fill="#fff"/>
<rect x="-2.6" y="125.30" width="1.6" height="1.8" fill="#fff"/>
<rect x="1.0" y="126.90" width="1.6" height="1.8" fill="#fff"/>
<rect x="-2.6" y="129.20" width="1.6" height="1.8" fill="#fff"/>
<rect x="1.0" y="130.80" width="1.6" height="1.8" fill="#fff"/>
<rect x="-2.6" y="133.10" width="1.6" height="1.8" fill="#fff"/>
<rect x="1.0" y="134.70" width="1.6" height="1.8" fill="#fff"/>
<rect x="-2.6" y="137.00" width="1.6" height="1.8" fill="#fff"/>
<rect x="1.0" y="138.60" width="1.6" height="1.8" fill="#fff"/>
<line x1="0.00" y1="114.50" x2="0.00" y2="146.00" stroke="#fff" stroke-width="0.7" />
<path d="M-3.2,134 C-4.6,140 -7.6,146 -9.4,150.5" stroke="#1c1c1c" stroke-width="2.4" fill="none" stroke-linecap="round"/>
<path d="M3.4,128 C4.2,136 6.6,145 10.8,149.6" stroke="#1c1c1c" stroke-width="2.4" fill="none" stroke-linecap="round"/>
<path d="M-1.0,138 C-1.4,141 -2.0,143 -2.6,145" stroke="#1c1c1c" stroke-width="1.4" fill="none" />
</g>
<ellipse cx="261.50" cy="468.00" rx="6.10" ry="6.10" stroke="#1c1c1c" stroke-width="0.9" fill="none" />
<g transform="translate(261.5,468.0) rotate(-23.691)">
<line x1="0.00" y1="0.00" x2="0.00" y2="28.50" stroke="#1c1c1c" stroke-width="0.85" />
<line x1="0.00" y1="97.50" x2="0.00" y2="114.50" stroke="#1c1c1c" stroke-width="0.85" />
<rect x="-2.5" y="60.0" width="5.0" height="37.2" fill="none" stroke="#1c1c1c" stroke-width="1.35"/>
<ellipse cx="0.00" cy="97.00" rx="2.50" ry="1.10" stroke="#1c1c1c" stroke-width="1.1" fill="#fff" />
<rect x="-2.9" y="28.8" width="5.8" height="32.2" fill="#161616" stroke="#161616" stroke-width="0.6"/>
<line x1="-2.20" y1="32.20" x2="2.20" y2="31.00" stroke="#6a6a6a" stroke-width="0.45" />
<line x1="-2.20" y1="34.55" x2="2.20" y2="33.35" stroke="#6a6a6a" stroke-width="0.45" />
<line x1="-2.20" y1="36.90" x2="2.20" y2="35.70" stroke="#6a6a6a" stroke-width="0.45" />
<line x1="-2.20" y1="39.25" x2="2.20" y2="38.05" stroke="#6a6a6a" stroke-width="0.45" />
<line x1="-2.20" y1="41.60" x2="2.20" y2="40.40" stroke="#6a6a6a" stroke-width="0.45" />
<line x1="-2.20" y1="43.95" x2="2.20" y2="42.75" stroke="#6a6a6a" stroke-width="0.45" />
<line x1="-2.20" y1="46.30" x2="2.20" y2="45.10" stroke="#6a6a6a" stroke-width="0.45" />
<line x1="-2.20" y1="48.65" x2="2.20" y2="47.45" stroke="#6a6a6a" stroke-width="0.45" />
<line x1="-2.20" y1="51.00" x2="2.20" y2="49.80" stroke="#6a6a6a" stroke-width="0.45" />
<line x1="-2.20" y1="53.35" x2="2.20" y2="52.15" stroke="#6a6a6a" stroke-width="0.45" />
<line x1="-2.20" y1="55.70" x2="2.20" y2="54.50" stroke="#6a6a6a" stroke-width="0.45" />
<line x1="-2.20" y1="58.05" x2="2.20" y2="56.85" stroke="#6a6a6a" stroke-width="0.45" />
<line x1="-2.20" y1="60.40" x2="2.20" y2="59.20" stroke="#6a6a6a" stroke-width="0.45" />
<ellipse cx="0.00" cy="28.90" rx="3.00" ry="1.60" stroke="#1c1c1c" stroke-width="1.2" fill="#161616" />
<line x1="-1.20" y1="29.00" x2="0.80" y2="28.60" stroke="#ddd" stroke-width="0.7" />
<path d="M-3.0,160.0 L-3.0,140 L3.0,140 L3.0,160.0" fill="#fff" stroke="#1c1c1c" stroke-width="1.0"/>
<ellipse cx="0.00" cy="160.00" rx="3.00" ry="1.70" stroke="#1c1c1c" stroke-width="1.0" fill="#fff" />
<path d="M0,113.5 C-2.6,114 -3.9,116 -3.9,119 L-3.9,141 L3.9,143 L3.9,119 C3.9,116 2.6,114 0,113.5 Z" stroke="#1c1c1c" stroke-width="1.0" fill="#1e1e1e" />
<rect x="-2.6" y="117.50" width="1.6" height="1.8" fill="#fff"/>
<rect x="1.0" y="119.10" width="1.6" height="1.8" fill="#fff"/>
<rect x="-2.6" y="121.40" width="1.6" height="1.8" fill="#fff"/>
<rect x="1.0" y="123.00" width="1.6" height="1.8" fill="#fff"/>
<rect x="-2.6" y="125.30" width="1.6" height="1.8" fill="#fff"/>
<rect x="1.0" y="126.90" width="1.6" height="1.8" fill="#fff"/>
<rect x="-2.6" y="129.20" width="1.6" height="1.8" fill="#fff"/>
<rect x="1.0" y="130.80" width="1.6" height="1.8" fill="#fff"/>
<rect x="-2.6" y="133.10" width="1.6" height="1.8" fill="#fff"/>
<rect x="1.0" y="134.70" width="1.6" height="1.8" fill="#fff"/>
<rect x="-2.6" y="137.00" width="1.6" height="1.8" fill="#fff"/>
<rect x="1.0" y="138.60" width="1.6" height="1.8" fill="#fff"/>
<line x1="0.00" y1="114.50" x2="0.00" y2="146.00" stroke="#fff" stroke-width="0.7" />
<path d="M-3.2,134 C-4.6,140 -7.6,146 -9.4,150.5" stroke="#1c1c1c" stroke-width="2.4" fill="none" stroke-linecap="round"/>
<path d="M3.4,128 C4.2,136 6.6,145 10.8,149.6" stroke="#1c1c1c" stroke-width="2.4" fill="none" stroke-linecap="round"/>
<path d="M-1.0,138 C-1.4,141 -2.0,143 -2.6,145" stroke="#1c1c1c" stroke-width="1.4" fill="none" />
</g>
<rect x="177.3" y="693.5" width="5.2" height="30.2" fill="#fff" stroke="#1c1c1c" stroke-width="1.0"/>
<rect x="177.3" y="812.8" width="5.2" height="30.6" fill="#fff" stroke="#1c1c1c" stroke-width="1.0"/>
<path d="M179.3,724.2 C176.0,731 171.2,733 171.2,741" stroke="#1c1c1c" stroke-width="2.5" fill="none" />
<path d="M179.3,724.2 C176.0,731 171.2,733 171.2,741" stroke="#fff" stroke-width="0.55" fill="none" />
<path d="M180.6,724.2 C184.0,731 188.9,733 188.9,741" stroke="#1c1c1c" stroke-width="2.5" fill="none" />
<path d="M180.6,724.2 C184.0,731 188.9,733 188.9,741" stroke="#fff" stroke-width="0.55" fill="none" />
<line x1="171.20" y1="740.50" x2="171.20" y2="749.20" stroke="#1c1c1c" stroke-width="1.5" />
<line x1="188.90" y1="740.50" x2="188.90" y2="749.20" stroke="#1c1c1c" stroke-width="1.5" />
<path d="M171.2,794.6 C171.2,802 176.6,806 179.4,812.4" stroke="#1c1c1c" stroke-width="2.5" fill="none" />
<path d="M171.2,794.6 C171.2,802 176.6,806 179.4,812.4" stroke="#fff" stroke-width="0.55" fill="none" />
<path d="M188.9,794.6 C188.9,802 183.4,806 180.5,812.4" stroke="#1c1c1c" stroke-width="2.5" fill="none" />
<path d="M188.9,794.6 C188.9,802 183.4,806 180.5,812.4" stroke="#fff" stroke-width="0.55" fill="none" />
<rect x="166.5" y="757.5" width="10.8" height="36.9" fill="#fff" stroke="#1c1c1c" stroke-width="1.0"/>
<rect x="182.1" y="757.5" width="10.6" height="36.9" fill="#fff" stroke="#1c1c1c" stroke-width="1.0"/>
<ellipse cx="171.90" cy="769.60" rx="3.70" ry="3.50" stroke="#1c1c1c" stroke-width="1.9" fill="#fff" />
<line x1="172.10" y1="766.00" x2="172.10" y2="773.20" stroke="#1c1c1c" stroke-width="1.1" />
<ellipse cx="171.90" cy="782.60" rx="3.70" ry="3.50" stroke="#1c1c1c" stroke-width="1.9" fill="#fff" />
<line x1="172.10" y1="779.00" x2="172.10" y2="786.20" stroke="#1c1c1c" stroke-width="1.1" />
<ellipse cx="187.50" cy="769.60" rx="3.70" ry="3.50" stroke="#1c1c1c" stroke-width="1.9" fill="#fff" />
<line x1="187.70" y1="766.00" x2="187.70" y2="773.20" stroke="#1c1c1c" stroke-width="1.1" />
<ellipse cx="187.50" cy="782.60" rx="3.70" ry="3.50" stroke="#1c1c1c" stroke-width="1.9" fill="#fff" />
<line x1="187.70" y1="779.00" x2="187.70" y2="786.20" stroke="#1c1c1c" stroke-width="1.1" />
<path d="M177.3,773.5 L179.0,775.3 L180.4,775.3 L182.1,773.5 M177.3,779.0 L179.0,777.2 L180.4,777.2 L182.1,779.0 M179.7,775.3 L179.7,777.2" stroke="#1c1c1c" stroke-width="0.9" fill="none" />
<ellipse cx="236.00" cy="716.50" rx="14.80" ry="14.80" stroke="#1c1c1c" stroke-width="1.0" fill="none" />
<line x1="235.90" y1="706.20" x2="235.90" y2="718.00" stroke="#1e1e1e" stroke-width="1.15" />
<line x1="224.40" y1="717.90" x2="247.60" y2="717.90" stroke="#1e1e1e" stroke-width="1.15" />
<line x1="228.00" y1="720.50" x2="244.20" y2="720.50" stroke="#1e1e1e" stroke-width="1.1" />
<line x1="230.20" y1="723.00" x2="241.40" y2="723.00" stroke="#1e1e1e" stroke-width="1.1" />
<path d="M235.0,738.0 C237.5,743 242.8,748 242.8,754" stroke="#1c1c1c" stroke-width="2.5" fill="none" />
<path d="M235.0,738.0 C237.5,743 242.8,748 242.8,754" stroke="#fff" stroke-width="0.55" fill="none" />
<line x1="242.80" y1="753.50" x2="242.80" y2="762.80" stroke="#1c1c1c" stroke-width="1.6" />
<rect x="228.6" y="772.0" width="21.8" height="8.6" fill="#fff" stroke="#1c1c1c" stroke-width="0.9"/>
<rect x="230.6" y="767.6" width="17.8" height="20.6" fill="#fff" stroke="#1c1c1c" stroke-width="1.3"/>
<rect x="230.6" y="784.4" width="17.8" height="4.4" fill="#222" stroke="#1c1c1c" stroke-width="0.8"/>
<ellipse cx="238.90" cy="774.60" rx="6.40" ry="6.40" stroke="#1c1c1c" stroke-width="1.6" fill="#fff" />
<ellipse cx="238.90" cy="774.60" rx="4.50" ry="4.50" stroke="#1c1c1c" stroke-width="1.0" fill="#fff" />
<ellipse cx="238.90" cy="774.60" rx="2.90" ry="2.90" stroke="#1c1c1c" stroke-width="1.3" fill="#fff" />
<line x1="238.90" y1="771.60" x2="238.90" y2="777.60" stroke="#1c1c1c" stroke-width="1.2" />
<line x1="235.90" y1="774.60" x2="241.90" y2="774.60" stroke="#1c1c1c" stroke-width="1.2" />
<path d="M223.6,789.2 L256.2,789.2 C257.2,789.2 257.6,789.8 257.6,791 L257.6,813.5 C257.6,823.5 250,831.0 239.9,831.0 C229.8,831.0 222.2,823.5 222.2,813.5 L222.2,791 C222.2,789.8 222.6,789.2 223.6,789.2 Z" stroke="#1c1c1c" stroke-width="1.5" fill="#fff" />
<ellipse cx="239.70" cy="815.00" rx="11.00" ry="11.00" stroke="#1c1c1c" stroke-width="1.2" fill="#fff" />
<ellipse cx="231.00" cy="796.90" rx="4.00" ry="4.00" stroke="#1c1c1c" stroke-width="1.3" fill="#fff" />
<line x1="231.00" y1="794.20" x2="231.00" y2="797.40" stroke="#1c1c1c" stroke-width="0.8" />
<line x1="228.60" y1="797.40" x2="233.40" y2="797.40" stroke="#1c1c1c" stroke-width="0.8" />
<line x1="229.40" y1="798.60" x2="232.60" y2="798.60" stroke="#1c1c1c" stroke-width="0.7" />
<path d="M693.5,818.7 C699,809 708,796 715.4,787.5 C719,783.5 724,781 729.6,779.0 C741,775.6 753,774.2 765,774.0 C777,774.2 790,776.4 800.4,780.4 C806,782.6 811,785 814.6,788.9 C822,797 829,809 834.4,818.7 Z" stroke="none" stroke-width="0" fill="#fff" />
<rect x="760.7" y="751.0" width="11.1" height="10.5" rx="2.2" fill="#fff" stroke="#1c1c1c" stroke-width="1.5"/>
<line x1="761.60" y1="757.40" x2="771.00" y2="757.40" stroke="#1c1c1c" stroke-width="1.2" />
<ellipse cx="766.20" cy="759.00" rx="3.40" ry="1.30" stroke="#1c1c1c" stroke-width="0.8" fill="#fff" />
<path d="M741.6,775.5 L742.3,769.0 L753.7,761.3 L760.7,759.4 L772.0,759.4 L779.2,763.4 L784.8,769.8 L785.5,775.5" stroke="#1c1c1c" stroke-width="1.6" fill="#fff" />
<path d="M746.5,767.0 C753,763.5 760,762.5 766,762.5 C772,762.6 777,763.6 781.0,766.0" stroke="#1c1c1c" stroke-width="0.8" fill="none" />
<path d="M715.4,787.5 C719,783.5 724,781 729.6,779.0 C741,775.6 753,774.2 765,774.0 C777,774.2 790,776.4 800.4,780.4 C806,782.6 811,785 814.6,788.9" stroke="#1c1c1c" stroke-width="1.7" fill="none" />
<path d="M715.4,787.5 C708,796 699,809 693.5,818.7" stroke="#1c1c1c" stroke-width="2.0" fill="none" />
<path d="M814.6,788.9 C822,797 829,809 834.4,818.7" stroke="#1c1c1c" stroke-width="2.0" fill="none" />
<path d="M765.70,778.30 Q765.50,788.55 765.30,806.80" stroke="#1c1c1c" stroke-width="1.45" fill="none" />
<path d="M769.30,778.30 Q769.50,788.55 769.70,806.80" stroke="#1c1c1c" stroke-width="1.45" fill="none" />
<line x1="765.70" y1="778.30" x2="769.30" y2="778.30" stroke="#1c1c1c" stroke-width="1.45" />
<path d="M750.20,779.00 Q746.85,789.10 746.50,807.20" stroke="#1c1c1c" stroke-width="1.45" fill="none" />
<path d="M753.80,779.00 Q750.95,789.10 751.10,807.20" stroke="#1c1c1c" stroke-width="1.45" fill="none" />
<line x1="750.20" y1="779.00" x2="753.80" y2="779.00" stroke="#1c1c1c" stroke-width="1.45" />
<path d="M737.90,781.20 Q728.70,791.10 726.50,809.00" stroke="#1c1c1c" stroke-width="1.45" fill="none" />
<path d="M741.30,781.20 Q732.90,791.10 731.50,809.00" stroke="#1c1c1c" stroke-width="1.45" fill="none" />
<line x1="737.90" y1="781.20" x2="741.30" y2="781.20" stroke="#1c1c1c" stroke-width="1.45" />
<path d="M726.50,785.00 Q713.30,794.75 710.10,812.50" stroke="#1c1c1c" stroke-width="1.45" fill="none" />
<path d="M729.50,785.00 Q717.20,794.75 714.90,812.50" stroke="#1c1c1c" stroke-width="1.45" fill="none" />
<line x1="726.50" y1="785.00" x2="729.50" y2="785.00" stroke="#1c1c1c" stroke-width="1.45" />
<path d="M717.90,789.50 Q703.05,798.75 698.20,816.00" stroke="#1c1c1c" stroke-width="1.45" fill="none" />
<path d="M720.10,789.50 Q705.95,798.75 701.80,816.00" stroke="#1c1c1c" stroke-width="1.45" fill="none" />
<line x1="717.90" y1="789.50" x2="720.10" y2="789.50" stroke="#1c1c1c" stroke-width="1.45" />
<path d="M780.70,779.50 Q785.15,789.85 785.60,808.20" stroke="#1c1c1c" stroke-width="1.45" fill="none" />
<path d="M784.30,779.50 Q789.35,789.85 790.40,808.20" stroke="#1c1c1c" stroke-width="1.45" fill="none" />
<line x1="780.70" y1="779.50" x2="784.30" y2="779.50" stroke="#1c1c1c" stroke-width="1.45" />
<path d="M792.30,782.50 Q801.90,792.75 803.50,811.00" stroke="#1c1c1c" stroke-width="1.45" fill="none" />
<path d="M795.70,782.50 Q806.10,792.75 808.50,811.00" stroke="#1c1c1c" stroke-width="1.45" fill="none" />
<line x1="792.30" y1="782.50" x2="795.70" y2="782.50" stroke="#1c1c1c" stroke-width="1.45" />
<path d="M802.50,786.00 Q815.10,796.25 817.70,814.50" stroke="#1c1c1c" stroke-width="1.45" fill="none" />
<path d="M805.50,786.00 Q818.90,796.25 822.30,814.50" stroke="#1c1c1c" stroke-width="1.45" fill="none" />
<line x1="802.50" y1="786.00" x2="805.50" y2="786.00" stroke="#1c1c1c" stroke-width="1.45" />
<path d="M809.40,789.00 Q823.35,799.25 827.30,817.50" stroke="#1c1c1c" stroke-width="1.45" fill="none" />
<path d="M811.60,789.00 Q826.15,799.25 830.70,817.50" stroke="#1c1c1c" stroke-width="1.45" fill="none" />
<line x1="809.40" y1="789.00" x2="811.60" y2="789.00" stroke="#1c1c1c" stroke-width="1.45" />
<path d="M722.6,808.5 L723.6,798.6 L727.8,798.0 M735.6,806.4 L737.0,795.2 L746.2,794.4 M753.0,793.6 L764.6,793.4 M770.6,793.4 L782.0,794.4 M788.6,795.6 L797.4,797.0 L799.0,807.6 M805.0,801.0 L809.4,802.4 L811.0,809.6" stroke="#1c1c1c" stroke-width="0.9" fill="none" />
<path d="M723.6,798.6 L723.2,808.0 M737.0,795.2 L736.6,806.0 M753.0,793.6 L753.0,806.4 M782.0,794.4 L782.6,806.6 M797.4,797.0 L798.0,808.0" stroke="#888" stroke-width="0.6" fill="none" />
<path d="M693.5,818.7 C702,815 712,812.4 722.5,810.2 C736,808 750,807.3 765,807.3 C780,807.4 794,809 807.5,811.6 C817,813.6 826,816 834.4,818.7" stroke="#1c1c1c" stroke-width="1.3" fill="none" />
<clipPath id="rimclip"><path d="M640,818.7 L693.5,818.7 C702,815 712,812.4 722.5,810.2 C736,808 750,807.3 765,807.3 C780,807.4 794,809 807.5,811.6 C817,813.6 826,816 834.4,818.7 L890,818.7 L890,940 L640,940 Z"/></clipPath>
<path d="M655.6,861.5 L655.6,857.0 A108.0,52.0 0 0 1 871.6,857.0 L871.6,861.5 A108.0,58.5 0 0 1 655.6,861.5 Z" stroke="none" stroke-width="0" fill="#fff" clip-path="url(#rimclip)"/>
<path d="M655.60,857.00 L655.62,856.06 L655.67,855.12 L655.76,854.18 L655.88,853.24 L656.04,852.30 L656.24,851.37 L656.46,850.43 L656.73,849.50 L657.03,848.57 L657.36,847.64 L657.73,846.72 L658.14,845.80 L658.57,844.88 L659.05,843.97 L659.55,843.06 L660.09,842.16 L660.67,841.26 L661.28,840.36 L661.92,839.47 L662.59,838.59 L663.30,837.71 L664.04,836.84 L664.82,835.98 L665.62,835.12 L666.46,834.27 L667.33,833.43 L668.23,832.60 L669.16,831.77 L670.13,830.95 L671.12,830.14 L672.15,829.34 L673.20,828.55 L674.28,827.77 L675.40,826.99 L676.54,826.23 L677.71,825.48 L678.91,824.73 L680.13,824.00 L681.39,823.28 L682.67,822.57 L683.98,821.87 L685.31,821.18 L686.67,820.50 L688.05,819.84 L689.46,819.19 L690.89,818.55 L692.35,817.92 L693.83,817.31" stroke="#1c1c1c" stroke-width="1.9" fill="none" />
<path d="M833.78,817.47 L835.24,818.09 L836.68,818.71 L838.10,819.35 L839.50,820.01 L840.87,820.67 L842.21,821.34 L843.53,822.03 L844.82,822.73 L846.09,823.44 L847.33,824.16 L848.55,824.89 L849.73,825.63 L850.89,826.38 L852.02,827.14 L853.12,827.91 L854.19,828.69 L855.24,829.48 L856.25,830.28 L857.23,831.09 L858.19,831.90 L859.11,832.72 L860.00,833.56 L860.86,834.39 L861.69,835.24 L862.49,836.09 L863.25,836.95 L863.98,837.82 L864.68,838.69 L865.35,839.57 L865.99,840.45 L866.59,841.34 L867.16,842.24 L867.69,843.14 L868.19,844.04 L868.66,844.95 L869.09,845.86 L869.49,846.78 L869.86,847.70 L870.19,848.62 L870.48,849.54 L870.74,850.47 L870.97,851.40 L871.16,852.33 L871.32,853.26 L871.44,854.19 L871.53,855.13 L871.58,856.06 L871.60,857.00" stroke="#1c1c1c" stroke-width="1.9" fill="none" />
<line x1="655.60" y1="856.70" x2="655.60" y2="861.80" stroke="#1c1c1c" stroke-width="1.9" />
<line x1="871.60" y1="856.70" x2="871.60" y2="861.80" stroke="#1c1c1c" stroke-width="1.9" />
<path d="M871.60,861.50 L871.37,865.33 L870.68,869.14 L869.52,872.91 L867.92,876.64 L865.87,880.30 L863.38,883.89 L860.46,887.37 L857.13,890.75 L853.40,894.00 L849.28,897.11 L844.80,900.07 L839.97,902.87 L834.81,905.48 L829.35,907.91 L823.60,910.14 L817.60,912.16 L811.37,913.97 L804.93,915.55 L798.32,916.90 L791.55,918.01 L784.67,918.88 L777.70,919.50 L770.66,919.87 L763.60,920.00 L756.54,919.87 L749.50,919.50 L742.53,918.88 L735.65,918.01 L728.88,916.90 L722.27,915.55 L715.83,913.97 L709.60,912.16 L703.60,910.14 L697.85,907.91 L692.39,905.48 L687.23,902.87 L682.40,900.07 L677.92,897.11 L673.80,894.00 L670.07,890.75 L666.74,887.37 L663.82,883.89 L661.33,880.30 L659.28,876.64 L657.68,872.91 L656.52,869.14 L655.83,865.33 L655.60,861.50" stroke="#1c1c1c" stroke-width="2.0" fill="none" />
<path d="M656.32,865.11 L656.68,862.24 L657.49,859.38 L658.74,856.56 L660.43,853.77 L662.55,851.03 L665.09,848.36 L668.05,845.75 L671.40,843.24 L675.14,840.82 L679.24,838.50 L683.70,836.30 L688.49,834.22 L693.59,832.28 L698.99,830.47 L704.66,828.82 L710.57,827.31 L716.70,825.98 L723.03,824.80 L729.53,823.80 L736.17,822.98 L742.93,822.33 L749.77,821.87 L756.67,821.59 L763.60,821.50 L770.53,821.59 L777.43,821.87 L784.27,822.33 L791.03,822.98 L797.67,823.80 L804.17,824.80 L810.50,825.98 L816.63,827.31 L822.54,828.82 L828.21,830.47 L833.61,832.28 L838.71,834.22 L843.50,836.30 L847.96,838.50 L852.06,840.82 L855.80,843.24 L859.15,845.75 L862.11,848.36 L864.65,851.03 L866.77,853.77 L868.46,856.56 L869.71,859.38 L870.52,862.24 L870.88,865.11" stroke="#1c1c1c" stroke-width="1.45" fill="none" />
<path d="M766.90,919.47 L759.96,919.47 L753.04,919.21 L746.18,918.71 L739.41,917.96 L732.77,916.98 L726.30,915.76 L720.03,914.31 L713.99,912.64 L708.22,910.75 L702.75,908.67 L697.61,906.40 L692.82,903.95 L688.42,901.33 L684.42,898.56 L680.85,895.66 L677.72,892.64 L675.06,889.51 L672.88,886.30 L671.18,883.02 L669.98,879.68 L669.29,876.31 L669.10,872.93 L669.43,869.55 L670.26,866.19 L671.60,862.87 L673.43,859.60 L675.75,856.41 L678.54,853.31 L681.79,850.32 L685.49,847.45 L689.60,844.73 L694.11,842.16 L699.00,839.75 L704.24,837.53 L709.79,835.50 L715.64,833.68 L721.74,832.07 L728.07,830.68 L734.59,829.53 L741.27,828.61 L748.07,827.93 L754.95,827.49 L761.88,827.31 L768.82,827.37 L775.73,827.68 L782.57,828.24 L789.32,829.04 L795.92,830.08" stroke="#1c1c1c" stroke-width="1.15" fill="none" />
<path d="M795.92,830.08 L798.36,830.53 L800.78,831.02 L803.16,831.53 L805.52,832.08 L807.84,832.66 L810.13,833.28 L812.39,833.92 L814.61,834.59 L816.79,835.29 L818.92,836.03 L821.02,836.79 L823.07,837.57 L825.08,838.39 L827.04,839.23 L828.95,840.10 L830.81,840.99 L832.62,841.91 L834.38,842.85 L836.08,843.82 L837.73,844.81 L839.32,845.82 L840.85,846.85 L842.33,847.90 L843.74,848.97 L845.09,850.06 L846.38,851.17 L847.61,852.29 L848.78,853.43 L849.87,854.59 L850.91,855.76 L851.87,856.94 L852.77,858.14 L853.60,859.35 L854.36,860.56 L855.06,861.79 L855.68,863.03 L856.23,864.27 L856.71,865.53 L857.12,866.78 L857.46,868.05 L857.73,869.32 L857.92,870.59 L858.05,871.86 L858.10,873.13 L858.08,874.41 L857.98,875.68 L857.82,876.95 L857.58,878.22" stroke="#a0a0a0" stroke-width="0.8" fill="none" stroke-dasharray="3 1.6"/>
<ellipse cx="765.10" cy="876.30" rx="92.90" ry="42.80" stroke="#1c1c1c" stroke-width="1.5" fill="none" />
<ellipse cx="762.70" cy="876.20" rx="78.90" ry="34.90" stroke="#1c1c1c" stroke-width="1.5" fill="none" />
<path d="M842.72,882.45 L854.38,883.25 L849.68,890.96 L838.50,889.39 Z" stroke="#1c1c1c" stroke-width="1.1" fill="none" />
<path d="M836.78,891.27 L847.75,893.05 L838.94,900.00 L828.88,897.52 Z" stroke="#1c1c1c" stroke-width="1.1" fill="none" />
<path d="M826.18,899.15 L835.93,901.80 L823.57,907.54 L815.10,904.31 Z" stroke="#1c1c1c" stroke-width="1.1" fill="none" />
<path d="M811.59,905.58 L819.65,908.95 L804.52,913.13 L798.03,909.33 Z" stroke="#1c1c1c" stroke-width="1.1" fill="none" />
<path d="M793.93,910.17 L799.95,914.05 L782.99,916.39 L778.74,912.28 Z" stroke="#1c1c1c" stroke-width="1.1" fill="none" />
<path d="M774.31,912.62 L778.06,916.78 L760.34,917.14 L758.44,912.95 Z" stroke="#1c1c1c" stroke-width="1.1" fill="none" />
<path d="M753.96,912.79 L755.35,916.96 L737.99,915.33 L738.41,911.31 Z" stroke="#1c1c1c" stroke-width="1.1" fill="none" />
<path d="M734.16,910.65 L733.26,914.59 L717.35,911.06 L719.90,907.47 Z" stroke="#1c1c1c" stroke-width="1.1" fill="none" />
<path d="M716.15,906.35 L713.16,909.81 L699.70,904.60 L704.08,901.67 Z" stroke="#1c1c1c" stroke-width="1.1" fill="none" />
<path d="M701.07,900.16 L696.33,902.93 L686.16,896.37 L691.95,894.26 Z" stroke="#1c1c1c" stroke-width="1.1" fill="none" />
<path d="M689.86,892.46 L683.82,894.37 L677.58,886.88 L684.26,885.72 Z" stroke="#1c1c1c" stroke-width="1.1" fill="none" />
<path d="M683.22,883.74 L676.42,884.68 L674.50,876.72 L681.50,876.58 Z" stroke="#1c1c1c" stroke-width="1.1" fill="none" />
<path d="M681.58,874.55 L674.59,874.46 L677.12,866.54 L683.85,867.42 Z" stroke="#1c1c1c" stroke-width="1.1" fill="none" />
<path d="M685.04,865.45 L678.45,864.36 L685.26,856.97 L691.14,858.80 Z" stroke="#1c1c1c" stroke-width="1.1" fill="none" />
<path d="M693.37,857.04 L687.75,855.00 L698.42,848.61 L702.94,851.29 Z" stroke="#1c1c1c" stroke-width="1.1" fill="none" />
<path d="M706.07,849.83 L701.91,846.99 L715.77,841.99 L718.49,845.33 Z" stroke="#1c1c1c" stroke-width="1.1" fill="none" />
<path d="M722.32,844.27 L720.04,840.82 L736.22,837.53 L736.81,841.32 Z" stroke="#1c1c1c" stroke-width="1.1" fill="none" />
<path d="M741.11,840.73 L741.01,836.87 L758.48,835.51 L756.77,839.50 Z" stroke="#1c1c1c" stroke-width="1.1" fill="none" />
<path d="M761.25,839.41 L763.48,835.41 L781.16,836.05 L777.09,839.98 Z" stroke="#1c1c1c" stroke-width="1.1" fill="none" />
<path d="M781.49,840.40 L786.06,836.51 L802.83,839.12 L796.51,842.74 Z" stroke="#1c1c1c" stroke-width="1.1" fill="none" />
<path d="M800.54,843.64 L807.32,840.11 L822.13,844.52 L813.81,847.60 Z" stroke="#1c1c1c" stroke-width="1.1" fill="none" />
<path d="M817.22,848.93 L825.93,845.99 L837.84,851.92 L827.90,854.26 Z" stroke="#1c1c1c" stroke-width="1.1" fill="none" />
<path d="M830.47,855.93 L840.72,853.77 L848.99,860.85 L837.89,862.30 Z" stroke="#1c1c1c" stroke-width="1.1" fill="none" />
<path d="M839.47,864.21 L850.75,862.97 L854.86,870.76 L843.15,871.21 Z" stroke="#1c1c1c" stroke-width="1.1" fill="none" />
<path d="M843.64,873.23 L855.41,873.00 L855.10,881.01 L843.36,880.44 Z" stroke="#1c1c1c" stroke-width="1.1" fill="none" />
<path d="M829.51,882.44 L816.52,894.23 L793.10,902.39 L763.90,905.30 L734.70,902.39 L711.28,894.23 L698.29,882.44 L698.29,869.36 L711.28,857.57 L734.70,849.41 L763.90,846.50 L793.10,849.41 L816.52,857.57 L829.51,869.36 Z" stroke="#1c1c1c" stroke-width="1.45" fill="none" />
<path d="M824.08,884.55 L823.11,886.01 L821.96,887.45 L820.65,888.86 L819.16,890.23 L817.51,891.56 L815.70,892.86 L813.74,894.10 L811.62,895.30 L809.37,896.44 L806.98,897.53 L804.46,898.55 L801.83,899.51 L799.08,900.41 L796.22,901.24 L793.27,901.99 L790.23,902.68 L787.11,903.28 L783.93,903.81 L780.68,904.27 L777.38,904.64 L774.05,904.93 L770.68,905.13 L767.30,905.26 L763.90,905.30 L760.50,905.26 L757.12,905.13 L753.75,904.93 L750.42,904.64 L747.12,904.27 L743.87,903.81 L740.69,903.28 L737.57,902.68 L734.53,901.99 L731.58,901.24 L728.72,900.41 L725.97,899.51 L723.34,898.55 L720.82,897.53 L718.43,896.44 L716.18,895.30 L714.06,894.10 L712.10,892.86 L710.29,891.56 L708.64,890.23 L707.15,888.86 L705.84,887.45 L704.69,886.01 L703.72,884.55" stroke="#1c1c1c" stroke-width="0.8" fill="none" />
<path d="M707.67,860.92 L709.21,859.88 L710.83,858.88 L712.56,857.90 L714.37,856.96 L716.27,856.05 L718.26,855.17 L720.33,854.34 L722.48,853.54 L724.70,852.79 L726.99,852.08 L729.34,851.41 L731.76,850.79 L734.23,850.21 L736.76,849.68 L739.33,849.19 L741.95,848.76 L744.61,848.37 L747.30,848.04 L750.02,847.75 L752.77,847.52 L755.53,847.34 L758.31,847.20 L761.10,847.13 L763.90,847.10 L766.70,847.13 L769.49,847.20 L772.27,847.34 L775.03,847.52 L777.78,847.75 L780.50,848.04 L783.19,848.37 L785.85,848.76 L788.47,849.19 L791.04,849.68 L793.57,850.21 L796.04,850.79 L798.46,851.41 L800.81,852.08 L803.10,852.79 L805.32,853.54 L807.47,854.34 L809.54,855.17 L811.53,856.05 L813.43,856.96 L815.24,857.90 L816.97,858.88 L818.59,859.88 L820.13,860.92" stroke="#1c1c1c" stroke-width="2.3" fill="none" />
<ellipse cx="763.30" cy="874.00" rx="56.20" ry="25.40" stroke="#1c1c1c" stroke-width="1.45" fill="none" />
<ellipse cx="763.30" cy="874.80" rx="53.60" ry="23.80" stroke="#1c1c1c" stroke-width="0.8" fill="none" />
<path d="M831.0,875.0 L811.5,886.5 M819.5,874.0 L827.0,868.5" stroke="#1c1c1c" stroke-width="1.0" fill="none" />
<clipPath id="lensclip"><ellipse cx="763.3" cy="875.4" rx="53.0" ry="23.6"/></clipPath>
<ellipse cx="763.60" cy="862.60" rx="29.00" ry="12.60" stroke="#1c1c1c" stroke-width="0.9" fill="none" clip-path="url(#lensclip)"/>
<path d="M990.3,224.5 C990.3,221 992.5,218.3 996,218.2 L1050.6,218.2 L1050.6,230.9 L996,230.9 C992.5,230.8 990.3,228 990.3,224.5 Z" stroke="#1c1c1c" stroke-width="1.0" fill="#1e1e1e" />
<rect x="1050.6" y="216.3" width="2.2" height="16.2" rx="0.8" fill="#1e1e1e" stroke="#1c1c1c" stroke-width="0.8"/>
<path d="M1022,219.0 C1026,217.4 1029,215.8 1031.6,214.6 L1032.6,216.6 C1031,217.6 1030,218.4 1029.0,219.4 Z" stroke="#1c1c1c" stroke-width="1.0" fill="#1e1e1e" />
<path d="M1022,230.2 C1026,231.8 1029,233.2 1031.6,234.6 L1032.6,232.6 C1031,231.6 1030,231.0 1029.0,230.0 Z" stroke="#1c1c1c" stroke-width="1.0" fill="#1e1e1e" />
<path d="M996.6,219.8 L999.8000000000001,219.8 L1000.4,222.6 L997.2,222.6 Z" fill="#fff"/>
<path d="M995.8000000000001,226.4 L999.0,226.4 L999.6,229.2 L996.4,229.2 Z" fill="#fff"/>
<path d="M1001.6,219.8 L1004.8000000000001,219.8 L1005.4,222.6 L1002.2,222.6 Z" fill="#fff"/>
<path d="M1000.8000000000001,226.4 L1004.0,226.4 L1004.6,229.2 L1001.4,229.2 Z" fill="#fff"/>
<path d="M1008.6,219.8 L1011.8000000000001,219.8 L1012.4,222.6 L1009.2,222.6 Z" fill="#fff"/>
<path d="M1007.8000000000001,226.4 L1011.0,226.4 L1011.6,229.2 L1008.4,229.2 Z" fill="#fff"/>
<path d="M1015.6,219.8 L1018.8000000000001,219.8 L1019.4,222.6 L1016.2,222.6 Z" fill="#fff"/>
<path d="M1014.8000000000001,226.4 L1018.0,226.4 L1018.6,229.2 L1015.4,229.2 Z" fill="#fff"/>
<path d="M1022.6,219.8 L1025.8,219.8 L1026.4,222.6 L1023.2,222.6 Z" fill="#fff"/>
<path d="M1021.8000000000001,226.4 L1025.0,226.4 L1025.6,229.2 L1022.4,229.2 Z" fill="#fff"/>
<path d="M1028.2,219.8 L1031.4,219.8 L1032.0,222.6 L1028.8,222.6 Z" fill="#fff"/>
<path d="M1027.4,226.4 L1030.6000000000001,226.4 L1031.2,229.2 L1028.0,229.2 Z" fill="#fff"/>
<path d="M991.6,223.6 L995.2,220.2 L995.2,223.6 Z" fill="#fff"/>
<path d="M991.6,225.4 L995.2,228.8 L995.2,225.4 Z" fill="#fff"/>
<line x1="999.00" y1="223.40" x2="1002.40" y2="225.80" stroke="#fff" stroke-width="0.7" />
<line x1="1006.00" y1="223.40" x2="1009.40" y2="225.80" stroke="#fff" stroke-width="0.7" />
<line x1="1013.00" y1="223.40" x2="1016.40" y2="225.80" stroke="#fff" stroke-width="0.7" />
<line x1="1020.00" y1="223.40" x2="1023.40" y2="225.80" stroke="#fff" stroke-width="0.7" />
<rect x="1031.2" y="219.6" width="1.9" height="9.8" fill="#fff"/>
<rect x="1036.4" y="222.6" width="1.2" height="3.6" fill="#fff"/>
<rect x="1039.4" y="222.6" width="1.2" height="3.6" fill="#fff"/>
<rect x="1042.4" y="222.6" width="1.2" height="3.6" fill="#fff"/>
<rect x="1046.2" y="221.2" width="4.0" height="6.6" fill="#fff"/>
<rect x="1034.6" y="219.6" width="10.4" height="0.9" fill="#fff"/>
<rect x="1034.6" y="228.6" width="10.4" height="0.9" fill="#fff"/>
<rect x="1022.4" y="236.1" width="15.4" height="17.3" fill="#fff" stroke="#dcdcdc" stroke-width="0.7"/>
<line x1="1022.40" y1="249.50" x2="1037.80" y2="251.20" stroke="#1c1c1c" stroke-width="0.8" />
<g transform="translate(988.25,256.0) rotate(6.544)">
<path d="M0,0 L4.5,-2.6 L69,-3.0 L72.6,-3.8 L72.6,3.8 L69,3.0 L4.5,2.6 Z" stroke="#1c1c1c" stroke-width="0.9" fill="#1e1e1e" />
<line x1="5.50" y1="2.00" x2="6.50" y2="-2.00" stroke="#9a9a9a" stroke-width="0.55" />
<line x1="7.85" y1="2.00" x2="8.85" y2="-2.00" stroke="#9a9a9a" stroke-width="0.55" />
<line x1="10.20" y1="2.00" x2="11.20" y2="-2.00" stroke="#9a9a9a" stroke-width="0.55" />
<line x1="12.55" y1="2.00" x2="13.55" y2="-2.00" stroke="#9a9a9a" stroke-width="0.55" />
<line x1="14.90" y1="2.00" x2="15.90" y2="-2.00" stroke="#9a9a9a" stroke-width="0.55" />
<line x1="17.25" y1="2.00" x2="18.25" y2="-2.00" stroke="#9a9a9a" stroke-width="0.55" />
<line x1="19.60" y1="2.00" x2="20.60" y2="-2.00" stroke="#9a9a9a" stroke-width="0.55" />
<line x1="21.95" y1="2.00" x2="22.95" y2="-2.00" stroke="#9a9a9a" stroke-width="0.55" />
<line x1="24.30" y1="2.00" x2="25.30" y2="-2.00" stroke="#9a9a9a" stroke-width="0.55" />
<line x1="26.65" y1="2.00" x2="27.65" y2="-2.00" stroke="#9a9a9a" stroke-width="0.55" />
<line x1="29.00" y1="2.00" x2="30.00" y2="-2.00" stroke="#9a9a9a" stroke-width="0.55" />
<line x1="31.35" y1="2.00" x2="32.35" y2="-2.00" stroke="#9a9a9a" stroke-width="0.55" />
<line x1="33.70" y1="2.00" x2="34.70" y2="-2.00" stroke="#9a9a9a" stroke-width="0.55" />
<line x1="36.05" y1="2.00" x2="37.05" y2="-2.00" stroke="#9a9a9a" stroke-width="0.55" />
<line x1="38.40" y1="2.00" x2="39.40" y2="-2.00" stroke="#9a9a9a" stroke-width="0.55" />
<line x1="40.75" y1="2.00" x2="41.75" y2="-2.00" stroke="#9a9a9a" stroke-width="0.55" />
<line x1="43.10" y1="2.00" x2="44.10" y2="-2.00" stroke="#9a9a9a" stroke-width="0.55" />
<line x1="45.45" y1="2.00" x2="46.45" y2="-2.00" stroke="#9a9a9a" stroke-width="0.55" />
<line x1="47.80" y1="2.00" x2="48.80" y2="-2.00" stroke="#9a9a9a" stroke-width="0.55" />
<line x1="50.15" y1="2.00" x2="51.15" y2="-2.00" stroke="#9a9a9a" stroke-width="0.55" />
<line x1="52.50" y1="2.00" x2="53.50" y2="-2.00" stroke="#9a9a9a" stroke-width="0.55" />
<line x1="54.85" y1="2.00" x2="55.85" y2="-2.00" stroke="#9a9a9a" stroke-width="0.55" />
<line x1="57.20" y1="2.00" x2="58.20" y2="-2.00" stroke="#9a9a9a" stroke-width="0.55" />
<line x1="59.55" y1="2.00" x2="60.55" y2="-2.00" stroke="#9a9a9a" stroke-width="0.55" />
<line x1="61.90" y1="2.00" x2="62.90" y2="-2.00" stroke="#9a9a9a" stroke-width="0.55" />
<line x1="64.25" y1="2.00" x2="65.25" y2="-2.00" stroke="#9a9a9a" stroke-width="0.55" />
<line x1="66.60" y1="2.00" x2="67.60" y2="-2.00" stroke="#9a9a9a" stroke-width="0.55" />
<path d="M69.6,-2.4 L71.8,-3.0 L71.8,3.0 L69.6,2.4 Z" stroke="none" stroke-width="0" fill="#fff" />
</g>
<line x1="1075.70" y1="215.30" x2="1086.90" y2="219.00" stroke="#1c1c1c" stroke-width="2.1" />
<path d="M1122.20,236.00 L1121.90,247.20 L1123.30,247.80 L1128.70,267.20 L1144.60,270.00 L1141.10,245.80 L1139.60,228.00 L1130.00,231.00 Z" stroke="#1c1c1c" stroke-width="1.0" fill="#fff" stroke-linejoin="round"/>
<path d="M1122.20,236.00 L1121.90,247.20 L1123.30,247.80 L1128.70,267.00" stroke="#1c1c1c" stroke-width="1.7" fill="none" stroke-linejoin="round"/>
<path d="M1139.00,228.00 L1140.30,235.00 L1141.10,245.80 L1144.50,269.90" stroke="#1c1c1c" stroke-width="2.4" fill="none" stroke-linejoin="round"/>
<path d="M1130.90,235.00 L1132.50,238.20 L1137.40,245.80 L1142.20,269.70" stroke="#1c1c1c" stroke-width="1.3" fill="none" stroke-linejoin="round"/>
<path d="M1132.50,246.60 L1135.20,269.70" stroke="#1c1c1c" stroke-width="1.3" fill="none" stroke-linejoin="round"/>
<path d="M1124.90,242.90 L1124.40,245.30 L1132.50,246.60 L1135.90,245.60" stroke="#1c1c1c" stroke-width="1.2" fill="none" stroke-linejoin="round"/>
<path d="M1124.90,242.90 L1131.40,242.00 L1133.60,243.70" stroke="#1c1c1c" stroke-width="1.1" fill="none" stroke-linejoin="round"/>
<path d="M1127.60,236.20 L1129.40,241.80" stroke="#1c1c1c" stroke-width="1.1" fill="none" stroke-linejoin="round"/>
<path d="M1104.00,219.30 L1111.30,215.00 L1138.70,222.30 L1129.30,226.70 Z" stroke="#1c1c1c" stroke-width="1.4" fill="#fff" stroke-linejoin="round"/>
<path d="M1107.00,217.60 L1133.00,224.90" stroke="#1c1c1c" stroke-width="1.5" fill="none" stroke-linejoin="round"/>
<path d="M1109.60,216.20 L1136.00,223.60" stroke="#1c1c1c" stroke-width="1.3" fill="none" stroke-linejoin="round"/>
<path d="M1129.30,226.70 L1138.70,222.30 L1139.20,233.60 L1130.80,236.20 L1127.30,235.70 Z" stroke="#1c1c1c" stroke-width="1.4" fill="#fff" stroke-linejoin="round"/>
<path d="M1130.00,231.70 L1138.40,229.50" stroke="#1c1c1c" stroke-width="1.3" fill="none" stroke-linejoin="round"/>
<path d="M1129.30,226.70 L1130.00,231.70 L1130.80,236.20" stroke="#1c1c1c" stroke-width="1.2" fill="none" stroke-linejoin="round"/>
<path d="M1104.00,219.30 L1129.30,226.70 L1127.30,235.70 L1104.00,231.30 Z" stroke="#1c1c1c" stroke-width="1.5" fill="#fff" stroke-linejoin="round"/>
<path d="M1104.60,223.20 L1128.20,228.60" stroke="#1c1c1c" stroke-width="1.3" fill="none" stroke-linejoin="round"/>
<path d="M1104.60,232.60 L1122.00,236.40" stroke="#1c1c1c" stroke-width="1.4" fill="none" stroke-linejoin="round"/>
<path d="M1100.70,216.00 L1102.00,214.90 L1104.00,219.30 L1104.00,231.30 L1098.70,228.70 Z" stroke="#1c1c1c" stroke-width="1.3" fill="#fff" stroke-linejoin="round"/>
<path d="M1102.00,214.90 L1111.30,215.00" stroke="#1c1c1c" stroke-width="1.2" fill="none" stroke-linejoin="round"/>
<path d="M1087.00,217.30 L1094.70,213.70 L1100.70,216.00 L1098.70,228.70 L1091.30,226.30 L1087.70,222.30 Z" stroke="#1c1c1c" stroke-width="1.3" fill="#fff" stroke-linejoin="round"/>
<path d="M1092.2,215.4 C1090.4,218.5 1090.2,223.0 1091.3,226.3" stroke="#1c1c1c" stroke-width="1.2" fill="none" />
<path d="M1099.6,215.8 C1097.6,219.5 1097.2,224.5 1098.7,228.7" stroke="#1c1c1c" stroke-width="1.2" fill="none" />
<path d="M1089.0,217.2 C1088.4,218.8 1088.4,220.8 1088.8,222.6" stroke="#1c1c1c" stroke-width="1.0" fill="none" />
<path d="M1120.60,270.20 L1129.20,266.90 L1148.20,270.20 L1147.60,289.70 L1136.30,293.70 L1120.60,290.00 Z" stroke="#1c1c1c" stroke-width="1.7" fill="#fff" stroke-linejoin="round"/>
<path d="M1120.80,271.60 L1135.80,275.20 L1147.80,271.00" stroke="#1c1c1c" stroke-width="1.5" fill="none" stroke-linejoin="round"/>
<path d="M1135.30,275.20 L1135.50,293.20" stroke="#1c1c1c" stroke-width="1.3" fill="none" stroke-linejoin="round"/>
<path d="M1137.30,275.00 L1137.30,293.20" stroke="#1c1c1c" stroke-width="1.3" fill="none" stroke-linejoin="round"/>
<path d="M1120.60,290.00 L1136.30,293.70 L1147.60,289.70" stroke="#1c1c1c" stroke-width="2.2" fill="none" stroke-linejoin="round"/>
<path d="M1122.00,272.60 L1134.60,275.80 L1139.00,274.60" stroke="#1c1c1c" stroke-width="0.9" fill="none" stroke-linejoin="round"/>
<g id="textfix" opacity="0.999">
<text transform="translate(81.60,307.20) scale(0.965,1)" font-size="29.6" text-anchor="start">A</text>
<text transform="translate(206.40,296.30) scale(0.955,1)" font-size="29.6" text-anchor="start">OFF</text>
<text transform="translate(319.40,250.00) scale(1.0,1)" font-size="58.3" text-anchor="start">B</text>
<text transform="translate(80.80,981.00) scale(0.965,1)" font-size="29.6" text-anchor="start">C</text>
<text transform="translate(206.60,966.60) scale(0.955,1)" font-size="29.6" text-anchor="start">ON</text>
<text transform="translate(113.60,728.70) scale(0.95,1)" font-size="47.3" text-anchor="middle">2</text>
<text transform="translate(434.20,703.20) scale(0.95,1)" font-size="47.3" text-anchor="middle">3</text>
<text x="324.00" y="963.00" font-size="14.17" text-anchor="start" >Instrukcja monta&#380;u / instalation instructions / Montageanleitung</text>
<text x="324.00" y="982.00" font-size="14.17" text-anchor="start" >Plafon / Ceiling lamp / Deckenleuchte</text>
<text x="153.00" y="756.50" font-size="14.5" text-anchor="start" >N</text>
<text x="196.60" y="756.50" font-size="14.5" text-anchor="start" >L</text>
<text x="153.00" y="804.80" font-size="14.5" text-anchor="start" >N</text>
<text x="196.60" y="804.80" font-size="14.5" text-anchor="start" >L</text>
<text x="1024.80" y="248.60" font-size="11.5" text-anchor="start" fill="#222">x2</text>
</g>
</svg>
</body></html>
